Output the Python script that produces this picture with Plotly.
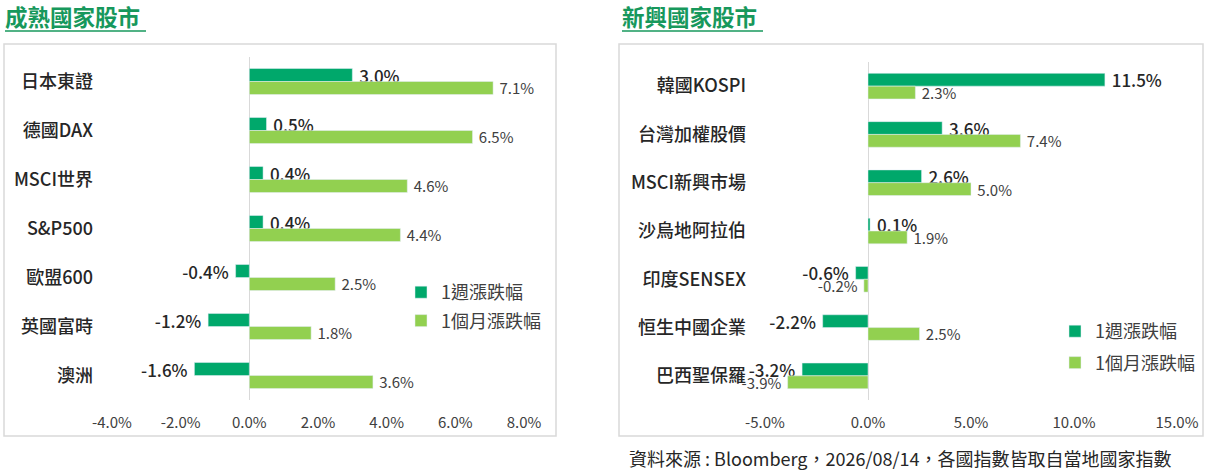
import plotly.graph_objects as go

# ---- data ----
dev_categories = ['日本東證', '德國DAX', 'MSCI世界', 'S&P500', '歐盟600', '英國富時', '澳洲']
dev_week = [3.0, 0.5, 0.4, 0.4, -0.4, -1.2, -1.6]
dev_month = [7.1, 6.5, 4.6, 4.4, 2.5, 1.8, 3.6]

em_categories = ['韓國KOSPI', '台灣加權股價', 'MSCI新興市場', '沙烏地阿拉伯', '印度SENSEX', '恒生中國企業', '巴西聖保羅']
em_week = [11.5, 3.6, 2.6, 0.1, -0.6, -2.2, -3.2]
em_month = [2.3, 7.4, 5.0, 1.9, -0.2, 2.5, -3.9]

dev_ticks = [-4, -2, 0, 2, 4, 6, 8]
dev_ticktext = ['-4.0%', '-2.0%', '0.0%', '2.0%', '4.0%', '6.0%', '8.0%']
em_ticks = [-5, 0, 5, 10, 15]
em_ticktext = ['-5.0%', '0.0%', '5.0%', '10.0%', '15.0%']

series_names = ['1週漲跌幅', '1個月漲跌幅']
titles = ['成熟國家股市', '新興國家股市']
footnote = '資料來源 : Bloomberg，2026/08/14，各國指數皆取自當地國家指數'

W, H = 1206, 471
C_WEEK = '#00A86B'
C_MONTH = '#92D050'
C_TITLE = '#17985C'
FONT = 'Noto Sans CJK TC, Noto Sans, sans-serif'
TXT = '#262626'
SP = '\u00a0'


def px(x):
    return x / W


def py(y):
    return 1 - y / H


fig = go.Figure()


def add_pair(cats, week, month, xa, ya, legend):
    fig.add_trace(go.Bar(
        y=cats, x=week, orientation='h', name=series_names[0],
        marker=dict(color=C_WEEK), xaxis=xa, yaxis=ya, legend=legend,
        texttemplate=SP + '%{x:.1f}%' + SP, textposition='outside', cliponaxis=False,
        constraintext='none', legendgroup=legend + 'w',
        textfont=dict(family=FONT, size=17, color=TXT, weight=500),
        hoverinfo='skip'))
    fig.add_trace(go.Bar(
        y=cats, x=month, orientation='h', name=series_names[1],
        marker=dict(color=C_MONTH), xaxis=xa, yaxis=ya, legend=legend,
        texttemplate=SP + '%{x:.1f}%' + SP, textposition='outside', cliponaxis=False,
        constraintext='none', legendgroup=legend + 'm',
        textfont=dict(family=FONT, size=15, color='#404040'),
        hoverinfo='skip'))


add_pair(dev_categories, dev_week, dev_month, 'x', 'y', 'legend')
add_pair(em_categories, em_week, em_month, 'x2', 'y2', 'legend2')

xcommon = dict(showgrid=False, zeroline=True, zerolinecolor='#D9D9D9', zerolinewidth=1,
               showline=False, ticks='', automargin=False,
               tickfont=dict(family=FONT, size=15, color='#404040'),
               ticklabelstandoff=12, fixedrange=True)
ycommon = dict(showgrid=False, zeroline=False, showline=False, ticks='', automargin=False,
               autorange='reversed', type='category',
               tickfont=dict(family=FONT, size=18, color=TXT, weight=500),
               ticklabelstandoff=18, fixedrange=True)

fig.update_layout(
    width=W, height=H,
    margin=dict(l=0, r=0, t=0, b=0, autoexpand=False),
    paper_bgcolor='white', plot_bgcolor='white',
    barmode='group', bargap=0.47, bargroupgap=0,
    showlegend=True,
    xaxis=dict(xcommon, domain=[px(112), px(524)], range=[-4, 8],
               tickvals=dev_ticks, ticktext=dev_ticktext, anchor='y'),
    yaxis=dict(ycommon, domain=[py(400), py(57)], anchor='x'),
    xaxis2=dict(xcommon, domain=[px(765), px(1177)], range=[-5, 15],
                tickvals=em_ticks, ticktext=em_ticktext, anchor='y2'),
    yaxis2=dict(ycommon, domain=[py(400), py(62)], anchor='x2'),
    legend=dict(x=px(401), y=py(274), xanchor='left', yanchor='top',
                font=dict(family=FONT, size=18, color='#404040'),
                bgcolor='rgba(0,0,0,0)', traceorder='grouped', tracegroupgap=2,
                itemwidth=30),
    legend2=dict(x=px(1055), y=py(313), xanchor='left', yanchor='top',
                 font=dict(family=FONT, size=18, color='#404040'),
                 bgcolor='rgba(0,0,0,0)', traceorder='grouped', tracegroupgap=5,
                 itemwidth=30),
    font=dict(family=FONT),
)

shapes = []
# panel boxes
for x0, x1 in [(4, 556), (619, 1203)]:
    shapes.append(dict(type='rect', xref='paper', yref='paper', x0=px(x0), x1=px(x1),
                       y0=py(436), y1=py(44), line=dict(color='#D9D9D9', width=1.5)))
# title underlines
for x0, x1 in [(5, 146), (622, 763)]:
    shapes.append(dict(type='line', xref='paper', yref='paper', x0=px(x0), x1=px(x1),
                       y0=py(31), y1=py(31), line=dict(color=C_TITLE, width=1.5)))
fig.update_layout(shapes=shapes)

anns = []
for t, x0 in zip(titles, [3, 620]):
    anns.append(dict(text=t, xref='paper', yref='paper', x=px(x0), y=py(16),
                     xanchor='left', yanchor='middle', showarrow=False,
                     font=dict(family=FONT, size=22.5, color=C_TITLE, weight='bold')))
anns.append(dict(text=footnote, xref='paper', yref='paper', x=px(627), y=py(458),
                 xanchor='left', yanchor='middle', showarrow=False,
                 font=dict(family=FONT, size=18, color=TXT)))
fig.update_layout(annotations=anns)

fig.write_html('out.html', config={'displayModeBar': False},
               post_script="document.body.style.margin='0';document.body.style.overflow='hidden';")
